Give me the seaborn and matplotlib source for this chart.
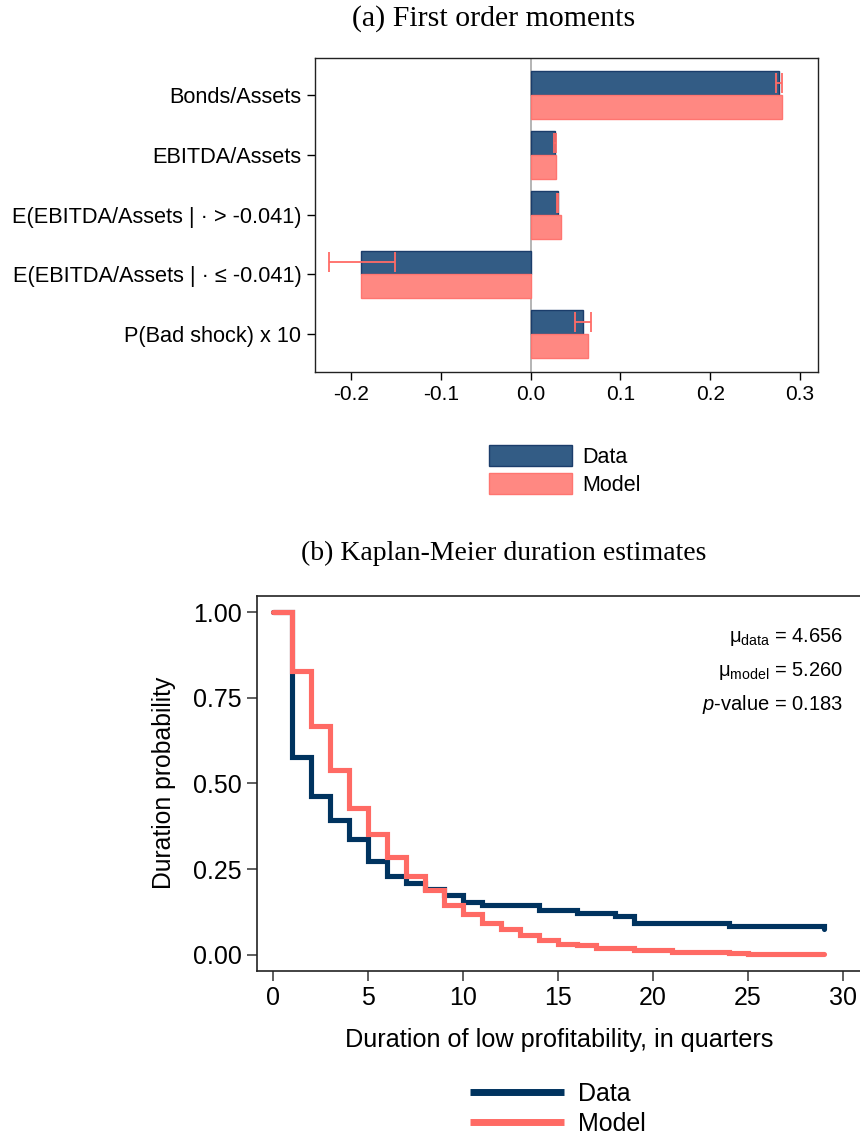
import numpy as np
import pandas as pd
import matplotlib
matplotlib.use("Agg")
import matplotlib.pyplot as plt
import matplotlib.ticker as mticker
import seaborn as sns

# ---------------- data ----------------
categories = ["Bonds/Assets", "EBITDA/Assets",
              "E(EBITDA/Assets | \u00b7 > -0.041)",
              "E(EBITDA/Assets | \u00b7 \u2264 -0.041)",
              "P(Bad shock) x 10"]
data_values = [0.2765, 0.0276, 0.0306, -0.1884, 0.0582]
model_values = [0.2802, 0.0287, 0.0343, -0.1884, 0.0638]
ci_low = [0.2731, 0.0266, 0.0292, -0.2239, 0.0493]
ci_high = [0.2795, 0.0285, 0.0310, -0.1511, 0.0668]
series_names = ["Data", "Model"]

km_time = list(range(0, 30))
km_data = [1.000, 0.578, 0.463, 0.392, 0.339, 0.273, 0.229, 0.209, 0.193, 0.173,
           0.154, 0.144, 0.144, 0.144, 0.129, 0.129, 0.122, 0.122, 0.112, 0.093,
           0.093, 0.093, 0.093, 0.093, 0.084, 0.084, 0.084, 0.084, 0.084, 0.074]
km_model = [1.000, 0.829, 0.667, 0.538, 0.429, 0.351, 0.285, 0.230, 0.188, 0.144,
            0.120, 0.093, 0.076, 0.058, 0.042, 0.032, 0.027, 0.020, 0.018, 0.013,
            0.013, 0.008, 0.008, 0.008, 0.005, 0.001, 0.001, 0.001, 0.001, 0.001]

annot_lines = [r"$\mathrm{\mu_{data}}$ = 4.656",
               r"$\mathrm{\mu_{model}}$ = 5.260",
               r"$\mathit{p}$-value = 0.183"]

# ---------------- style ----------------
sns.set_style("ticks")
plt.rcParams["font.family"] = ["Liberation Sans", "DejaVu Sans"]
plt.rcParams["axes.unicode_minus"] = False
plt.rcParams["mathtext.fontset"] = "custom"
plt.rcParams["mathtext.rm"] = "Liberation Sans"
plt.rcParams["mathtext.it"] = "Liberation Sans:italic"
plt.rcParams["text.color"] = "black"
plt.rcParams["axes.labelcolor"] = "black"
plt.rcParams["xtick.color"] = "black"
plt.rcParams["ytick.color"] = "black"

DATA_FILL = "#335C85"
DATA_EDGE = "#1B3D6B"
MODEL_FILL = "#FF8882"
MODEL_EDGE = "#FF7570"
ERR_COLOR = "#FF6B66"
NAVY = "#00335F"
RED = "#FF6A64"

fig = plt.figure(figsize=(8.6, 11.35), dpi=100)

# ---------------- panel (a) ----------------
ax1 = fig.add_axes([0.3659, 0.6725, 0.5856, 0.2767])
df_bar = pd.DataFrame({
    "category": categories * 2,
    "value": data_values + model_values,
    "series": [series_names[0]] * len(categories) + [series_names[1]] * len(categories),
})
sns.barplot(data=df_bar, y="category", x="value", hue="series", orient="h",
            palette=[DATA_FILL, MODEL_FILL], saturation=1, width=0.8,
            errorbar=None, ax=ax1, zorder=2)
for cont, ec in zip(ax1.containers, [DATA_EDGE, MODEL_EDGE]):
    for p in cont:
        p.set_edgecolor(ec)
        p.set_linewidth(1.0)

ax1.axvline(0, color="#A8A8A8", lw=1.2, zorder=1)

ypos = np.arange(len(categories)) - 0.2
lo = np.array(ci_low)
hi = np.array(ci_high)
mid = (lo + hi) / 2
ax1.errorbar(mid, ypos, xerr=(hi - lo) / 2, fmt="none", ecolor=ERR_COLOR,
             elinewidth=1.3, capsize=7, capthick=1.3, zorder=4)

ax1.set_xlim(-0.2403, 0.3204)
ax1.set_ylim(len(categories) - 1 + 0.63, -0.63)
ax1.set_xticks([-0.2, -0.1, 0.0, 0.1, 0.2, 0.3])
ax1.xaxis.set_major_formatter(mticker.FormatStrFormatter("%.1f"))
ax1.set_xlabel("")
ax1.set_ylabel("")
ax1.tick_params(axis="both", direction="out", length=5.5, width=1.0,
                labelsize=15, color="black", pad=4)
ax1.tick_params(axis="y", labelsize=15.7)
for s in ax1.spines.values():
    s.set_linewidth(1.0)
    s.set_color("#222222")

sns.move_legend(ax1, loc="upper left", bbox_to_anchor=(0.5686, 0.6079),
                bbox_transform=fig.transFigure, frameon=False, title=None,
                fontsize=15.5, handlelength=3.86, handleheight=1.12,
                handletextpad=0.47, labelspacing=0.23, borderpad=0,
                borderaxespad=0)
leg1 = ax1.get_legend()
for h, fc, ec in zip(leg1.legend_handles, [DATA_FILL, MODEL_FILL], [DATA_EDGE, MODEL_EDGE]):
    h.set_facecolor(fc)
    h.set_edgecolor(ec)

fig.text(0.574, 0.9835, "(a) First order moments", ha="center", va="center",
         fontsize=21.5, family=["Liberation Serif", "DejaVu Serif"])

# ---------------- panel (b) ----------------
ax2 = fig.add_axes([0.2985, 0.1448, 0.7038, 0.3304])
df_km = pd.DataFrame({
    "t": km_time * 2,
    "s": km_data + km_model,
    "series": [series_names[0]] * len(km_time) + [series_names[1]] * len(km_time),
})
sns.lineplot(data=df_km, x="t", y="s", hue="series", palette=[NAVY, RED],
             estimator=None, drawstyle="steps-post", linewidth=3.7,
             solid_capstyle="round", solid_joinstyle="miter", ax=ax2)

ax2.set_xlim(-0.838, 31.0)
ax2.set_ylim(-0.0467, 1.0485)
ax2.set_xticks([0, 5, 10, 15, 20, 25, 30])
ax2.set_yticks([0, 0.25, 0.5, 0.75, 1.0])
ax2.yaxis.set_major_formatter(mticker.FormatStrFormatter("%.2f"))
ax2.tick_params(axis="both", direction="out", length=7, width=1.1,
                labelsize=18, color="#333333", pad=4)
ax2.set_xlabel("Duration of low profitability, in quarters", fontsize=18.2, labelpad=13)
ax2.set_ylabel("Duration probability", fontsize=17.8, labelpad=12)
for s in ax2.spines.values():
    s.set_linewidth(1.2)
    s.set_color("#222222")

for txt, yy in zip(annot_lines, [0.890, 0.799, 0.711]):
    ax2.text(0.9686, yy, txt, transform=ax2.transAxes, ha="right", va="center",
             fontsize=14.5)

sns.move_legend(ax2, loc="upper left", bbox_to_anchor=(0.5465, 0.0470),
                bbox_transform=fig.transFigure, frameon=False, title=None,
                fontsize=18, handlelength=3.76, handletextpad=0.55,
                labelspacing=0.25, borderpad=0, borderaxespad=0)
leg2 = ax2.get_legend()
for h in leg2.get_lines():
    h.set_linewidth(5)
    h.set_solid_capstyle("butt")

fig.text(0.586, 0.5128, "(b) Kaplan-Meier duration estimates", ha="center",
         va="center", fontsize=20, family=["Liberation Serif", "DejaVu Serif"])

fig.savefig("out.png", dpi=100)
